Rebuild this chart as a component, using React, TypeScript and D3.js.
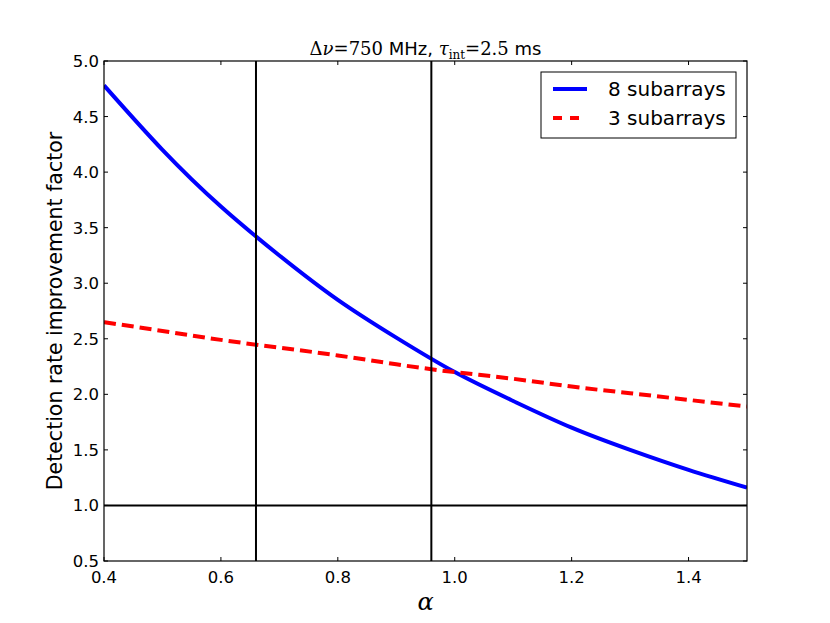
import React from "react";
import * as d3 from "d3";

// values
const alpha = [0.4, 0.5, 0.6, 0.7, 0.8, 0.9, 1.0, 1.1, 1.2, 1.3, 1.4, 1.5];
const sub8 = [4.78, 4.2, 3.69, 3.25, 2.85, 2.51, 2.2, 1.94, 1.7, 1.5, 1.32, 1.16];
const sub3 = [2.65, 2.57, 2.49, 2.42, 2.35, 2.27, 2.2, 2.14, 2.07, 2.01, 1.95, 1.89];
const vLines = [0.66, 0.96];
const hLines = [1.0];
const xTicks = [0.4, 0.6, 0.8, 1.0, 1.2, 1.4];
const yTicks = [0.5, 1.0, 1.5, 2.0, 2.5, 3.0, 3.5, 4.0, 4.5, 5.0];
const seriesNames = ["8 subarrays", "3 subarrays"];

const W = 830, H = 623;
const left = 104, right = 747, top = 61, bottom = 561;
const sans = "'DejaVu Sans', sans-serif";
const serif = "'DejaVu Serif', serif";

export default function App() {
  const x = d3.scaleLinear().domain([0.4, 1.5]).range([left, right]);
  const y = d3.scaleLinear().domain([0.5, 5.0]).range([bottom, top]);
  const line = d3.line<number>()
    .x((_, i) => x(alpha[i]))
    .y((d) => y(d))
    .curve(d3.curveNatural);

  const tick = 4;

  return (
    <div style={{ margin: -8 }}>
      <svg width={W} height={H} style={{ background: "#fff", display: "block" }}>
        <defs>
          <clipPath id="plot">
            <rect x={left} y={top} width={right - left} height={bottom - top} />
          </clipPath>
        </defs>
        <g clipPath="url(#plot)">
          <path d={line(sub8) || ""} fill="none" stroke="#0000ff" strokeWidth={4} />
          <path d={line(sub3) || ""} fill="none" stroke="#ff0000" strokeWidth={4} strokeDasharray="12,6" />
          {vLines.map((v) => (
            <line key={v} x1={x(v)} x2={x(v)} y1={top} y2={bottom} stroke="#000" strokeWidth={2} />
          ))}
          {hLines.map((v) => (
            <line key={v} x1={left} x2={right} y1={y(v)} y2={y(v)} stroke="#000" strokeWidth={2} />
          ))}
        </g>
        {/* ticks, inward on all sides */}
        {xTicks.map((t) => (
          <g key={"x" + t}>
            <line x1={x(t)} x2={x(t)} y1={bottom} y2={bottom - tick} stroke="#000" />
            <line x1={x(t)} x2={x(t)} y1={top} y2={top + tick} stroke="#000" />
            <text x={x(t)} y={bottom + 22} textAnchor="middle" fontFamily={sans} fontSize={16.5}>
              {t.toFixed(1)}
            </text>
          </g>
        ))}
        {yTicks.map((t) => (
          <g key={"y" + t}>
            <line x1={left} x2={left + tick} y1={y(t)} y2={y(t)} stroke="#000" />
            <line x1={right} x2={right - tick} y1={y(t)} y2={y(t)} stroke="#000" />
            <text x={left - 5} y={y(t) + 6} textAnchor="end" fontFamily={sans} fontSize={16.5}>
              {t.toFixed(1)}
            </text>
          </g>
        ))}
        <rect x={left} y={top} width={right - left} height={bottom - top} fill="none" stroke="#000" strokeWidth={1.2} />

        {/* title */}
        <text x={(left + right) / 2} y={55} textAnchor="middle" fontSize={18} fontFamily={serif}>
          <tspan>Δ</tspan>
          <tspan fontStyle="italic">ν</tspan>
          <tspan>=750</tspan>
          <tspan fontFamily={sans}> MHz, </tspan>
          <tspan fontStyle="italic">τ</tspan>
          <tspan fontSize={12} dy={4}>int</tspan>
          <tspan dy={-4}>=2.5</tspan>
          <tspan fontFamily={sans}> ms</tspan>
        </text>

        {/* axis labels */}
        <text x={(left + right) / 2} y={610} textAnchor="middle" fontFamily={serif} fontStyle="italic" fontSize={24}>
          α
        </text>
        <text
          transform={`translate(62,${(top + bottom) / 2}) rotate(-90)`}
          textAnchor="middle"
          fontFamily={sans}
          fontSize={20.5}
        >
          Detection rate improvement factor
        </text>

        {/* legend */}
        <rect x={541} y={72} width={195} height={66} fill="#fff" stroke="#000" strokeWidth={1} />
        <line x1={553} x2={587} y1={89} y2={89} stroke="#0000ff" strokeWidth={4} />
        <line x1={553} x2={587} y1={118} y2={118} stroke="#ff0000" strokeWidth={4} strokeDasharray="9,8" />
        <text x={608} y={96} fontFamily={sans} fontSize={20}>{seriesNames[0]}</text>
        <text x={608} y={125} fontFamily={sans} fontSize={20}>{seriesNames[1]}</text>
      </svg>
    </div>
  );
}
